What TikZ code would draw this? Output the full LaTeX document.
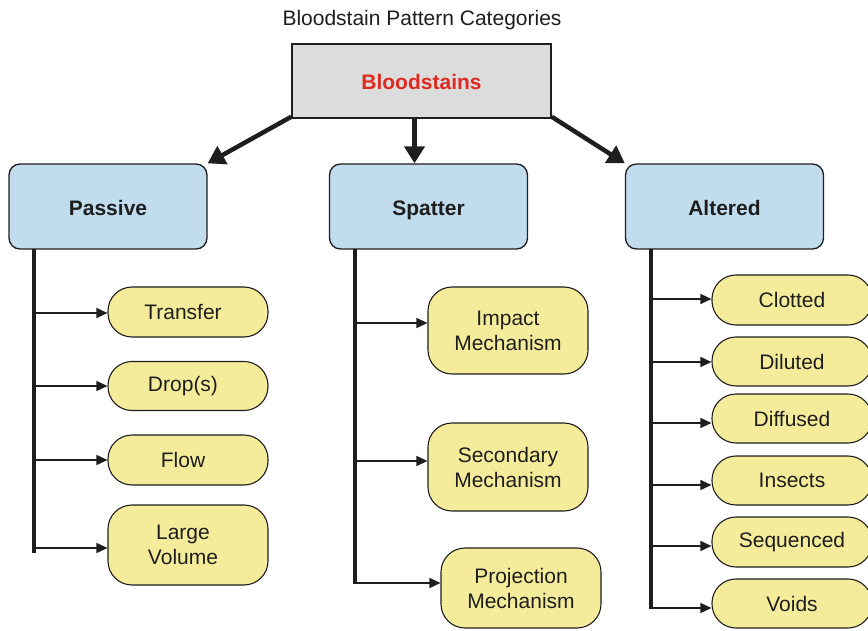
\documentclass[tikz,border=0pt]{standalone}
\usepackage{fontspec}
\setmainfont{Liberation Sans}
\usetikzlibrary{arrows.meta,calc}
\definecolor{boxgray}{RGB}{220,220,220}
\definecolor{boxblue}{RGB}{192,220,237}
\definecolor{pillyellow}{RGB}{245,236,155}
\definecolor{titlered}{RGB}{222,42,32}
\definecolor{ink}{RGB}{30,30,30}
\newcommand{\padr}{\hspace*{10pt}}
\tikzset{
  rootbox/.style={draw=ink,line width=1.6pt,fill=boxgray,minimum width=259pt,minimum height=74pt,inner sep=0pt,
    text height=17pt,text depth=0pt,
    font=\fontsize{21}{25}\selectfont\bfseries,text=titlered},
  catbox/.style={draw=ink,line width=1.3pt,fill=boxblue,rounded corners=11pt,minimum width=198pt,minimum height=85pt,inner sep=0pt,
    text height=18pt,text depth=0pt,
    font=\fontsize{21}{25}\selectfont\bfseries,text=ink},
  pill/.style={draw=ink,line width=1.1pt,fill=pillyellow,rounded corners=24pt,minimum width=160pt,inner sep=0pt,align=center,
    font=\fontsize{21}{25}\selectfont,text=ink},
  bigarrow/.style={draw=ink,line width=4.5pt,-{Triangle[width=20pt,length=17pt]}},
  trunkline/.style={draw=ink,line width=3.2pt},
  branch/.style={draw=ink,line width=1.4pt,-{Triangle[width=10pt,length=11pt]}},
}
\begin{document}
\begin{tikzpicture}[x=1pt,y=-1pt]
\useasboundingbox (0,0) rectangle (868,631);
\node[font=\fontsize{21}{25}\selectfont,text=ink] (title) at (422,20) {Bloodstain Pattern Categories};
\node[rootbox] (root) at (421.5,81) {Bloodstains};
\node[catbox] (passive) at (108,206.5) {Passive};
\node[catbox] (spatter) at (428.5,206.5) {Spatter};
\node[catbox] (altered) at (724.5,206.5) {Altered};

\draw[bigarrow] ($(root.south west)+(0,-2)$) -- (passive.north east);
\draw[bigarrow] ($(root.south)+(-7,0)$) -- ($(spatter.north)+(-14,0)$);
\draw[bigarrow] ($(root.south east)+(0,-2)$) -- (altered.north west);

% Passive
\node[pill,minimum height=50pt] (transfer) at (188,312) {Transfer\padr};
\node[pill,minimum height=49pt] (drops) at (188,386) {Drop(s)\padr};
\node[pill,minimum height=50pt] (flow) at (188,460) {Flow\padr};
\node[pill,minimum height=80pt] (large) at (188,545) {Large\padr\\Volume\padr};
\coordinate (ptop) at (34,249);
\coordinate (pbot) at (34,553);
\draw[trunkline] (ptop) -- (pbot);
\draw[branch] (ptop |- 0,313) -- (transfer.west |- 0,313);
\draw[branch] (ptop |- 0,386) -- (drops.west |- 0,386);
\draw[branch] (ptop |- 0,460) -- (flow.west |- 0,460);
\draw[branch] (ptop |- 0,548) -- (large.west |- 0,548);

% Spatter
\node[pill,minimum height=87pt] (impact) at (508,330.5) {Impact\\Mechanism};
\node[pill,minimum height=88pt] (secondary) at (508,467) {Secondary\\Mechanism};
\node[pill,minimum height=80pt] (projection) at (521,588) {Projection\\Mechanism};
\coordinate (stop) at (355,249);
\coordinate (sbot) at (355,583);
\draw[trunkline] (stop) -- (sbot);
\draw[branch] (stop |- 0,323) -- (impact.west |- 0,323);
\draw[branch] (stop |- 0,461) -- (secondary.west |- 0,461);
\draw[branch] ($(sbot)+(-1.6,0)$) -- (projection.west |- 0,583);

% Altered
\node[pill,minimum height=50pt] (clotted) at (792,300) {Clotted};
\node[pill,minimum height=49pt] (diluted) at (792,361.5) {Diluted};
\node[pill,minimum height=49pt] (diffused) at (792,418.5) {Diffused};
\node[pill,minimum height=49pt] (insects) at (792,480.5) {Insects};
\node[pill,minimum height=50pt] (sequenced) at (792,542) {Sequenced};
\node[pill,minimum height=49pt] (voids) at (792,603.5) {Voids};
\coordinate (atop) at (651,249);
\coordinate (abot) at (651,608);
\draw[trunkline] (atop) -- (abot);
\draw[branch] (atop |- 0,299) -- (clotted.west |- 0,299);
\draw[branch] (atop |- 0,362) -- (diluted.west |- 0,362);
\draw[branch] (atop |- 0,423) -- (diffused.west |- 0,423);
\draw[branch] (atop |- 0,485) -- (insects.west |- 0,485);
\draw[branch] (atop |- 0,546) -- (sequenced.west |- 0,546);
\draw[branch] ($(abot)+(-1.6,0)$) -- (voids.west |- 0,608);
\end{tikzpicture}
\end{document}
